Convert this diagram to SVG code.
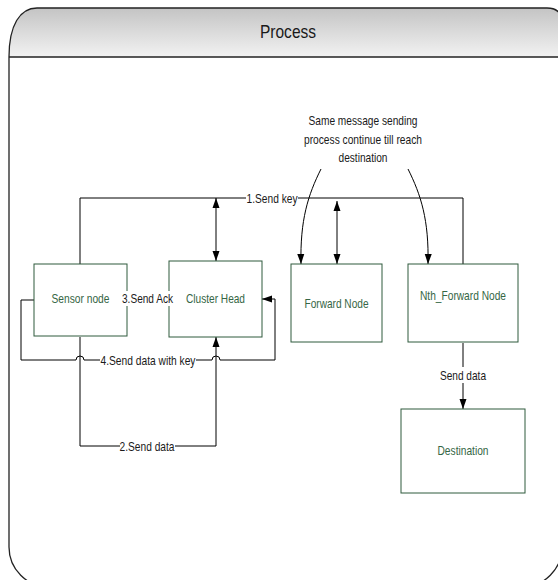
<svg xmlns="http://www.w3.org/2000/svg" width="558" height="580" viewBox="0 0 558 580">
<defs>
<linearGradient id="hdr" x1="0" y1="0" x2="0" y2="1">
<stop offset="0" stop-color="#c4c4c4"/>
<stop offset="1" stop-color="#f2f2f2"/>
</linearGradient>
<marker id="ah" markerUnits="userSpaceOnUse" markerWidth="10" markerHeight="8" viewBox="0 0 10 7" refX="10" refY="3.5" orient="auto-start-reverse">
<path d="M0,0 L10,3.5 L0,7 z" fill="#000"/>
</marker>
</defs>
<style>
.t{font-family:"Liberation Sans",Arial,sans-serif;}
.node rect{fill:#fff;stroke:#2f5a3c;stroke-width:1;}
.node text{fill:#356645;font-size:13px;text-anchor:middle;}
.lbl{fill:#1a1a1a;font-size:13px;text-anchor:middle;}
.c{fill:none;stroke:#000;stroke-width:1;}
.bg{fill:#fff;}
</style>
<rect width="558" height="580" fill="#fff"/>
<g id="frame">
<path d="M9,57 C9,25 20,8 37,8 L547,8 Q562,8 562,23 L562,57 Z" fill="url(#hdr)"/>
<path d="M9,57 C9,25 20,8 37,8 L547,8 Q562,8 562,23 L562,547 A40,40 0 0 1 522,587 L49,587 A40,40 0 0 1 9,547 Z" fill="none" stroke="#222" stroke-width="1.3"/>
<line x1="9" y1="57" x2="562" y2="57" stroke="#222" stroke-width="1.3"/>
<text class="t" x="288" y="38" font-size="18.5" text-anchor="middle" fill="#1a1a1a" textLength="56" lengthAdjust="spacingAndGlyphs">Process</text>
</g>
<g id="note">
<text class="t lbl" x="363" y="125" textLength="109" lengthAdjust="spacingAndGlyphs">Same message sending</text>
<text class="t lbl" x="363" y="144" textLength="118" lengthAdjust="spacingAndGlyphs">process continue till reach</text>
<text class="t lbl" x="363" y="162" textLength="49" lengthAdjust="spacingAndGlyphs">destination</text>
</g>
<g id="connectors">
<path class="c" d="M80,264 V198 H463 V264"/>
<path class="c" d="M80,337 V446 H216 V337" marker-end="url(#ah)"/>
<path class="c" d="M34,300 H21 V360 H76 A4,4 0 0 1 84,360 H212 A4,4 0 0 1 220,360 H275 V299 H262" marker-end="url(#ah)"/>
<path class="c" d="M216,198 V261" marker-start="url(#ah)" marker-end="url(#ah)"/>
<path class="c" d="M337,201 V264" marker-start="url(#ah)" marker-end="url(#ah)"/>
<path class="c" d="M321,169 C308,195 300,220 301,264" marker-end="url(#ah)"/>
<path class="c" d="M408,169 C421,195 429,220 428,264" marker-end="url(#ah)"/>
<path class="c" d="M463,343 V409" marker-end="url(#ah)"/>
<rect class="bg" x="246" y="191" width="52" height="14"/>
<text class="t lbl" x="272" y="202.5" textLength="51" lengthAdjust="spacingAndGlyphs">1.Send key</text>
<rect class="bg" x="100" y="353" width="96" height="14"/>
<text class="t lbl" x="148" y="364.5" textLength="95" lengthAdjust="spacingAndGlyphs">4.Send data with key</text>
<rect class="bg" x="120" y="439" width="55" height="14"/>
<text class="t lbl" x="147" y="450.5" textLength="55" lengthAdjust="spacingAndGlyphs">2.Send data</text>
<rect class="bg" x="439" y="367" width="48" height="16"/>
<text class="t lbl" x="463" y="379.5" textLength="46" lengthAdjust="spacingAndGlyphs">Send data</text>
</g>
<g id="sensor" class="node">
<rect x="34" y="264" width="93" height="72"/>
<text class="t" x="80.5" y="302.5" textLength="58" lengthAdjust="spacingAndGlyphs">Sensor node</text>
</g>
<g id="cluster" class="node">
<rect x="169" y="261" width="93" height="76"/>
<text class="t" x="215.5" y="302.5" textLength="59" lengthAdjust="spacingAndGlyphs">Cluster Head</text>
</g>
<g id="forward" class="node">
<rect x="291" y="264" width="91" height="78"/>
<text class="t" x="336.5" y="307.5" textLength="64" lengthAdjust="spacingAndGlyphs">Forward Node</text>
</g>
<g id="nth" class="node">
<rect x="408" y="264" width="110" height="78"/>
<text class="t" x="463" y="299.5" textLength="86" lengthAdjust="spacingAndGlyphs">Nth_Forward Node</text>
</g>
<g id="destination" class="node">
<rect x="401" y="409" width="124" height="84"/>
<text class="t" x="463" y="454.5" textLength="51" lengthAdjust="spacingAndGlyphs">Destination</text>
</g>
<g id="ack-label">
<rect class="bg" x="122" y="291" width="48" height="15"/>
<text class="t lbl" x="147.5" y="302.5" textLength="51" lengthAdjust="spacingAndGlyphs">3.Send Ack</text>
</g>
</svg>
